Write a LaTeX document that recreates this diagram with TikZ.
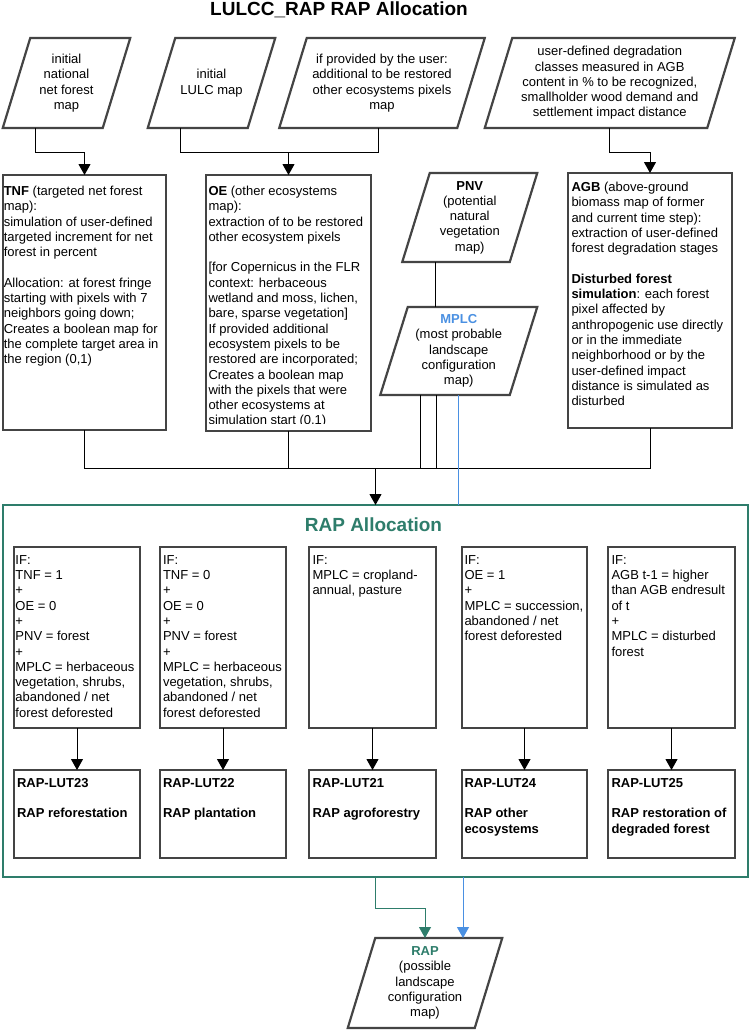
\documentclass[tikz,border=0pt]{standalone}
\usepackage{fontspec}
\setmainfont{Liberation Sans}
\usetikzlibrary{arrows.meta,calc}
\definecolor{bord}{HTML}{444444}
\definecolor{rgreen}{HTML}{2E7D6B}
\definecolor{mblue}{HTML}{4A90E2}
\newcommand\parashape[1]{\draw[pshape] ([xshift=13.75pt]#1.north west) -- ([xshift=13.75pt]#1.north east) -- ([xshift=-13.75pt]#1.south east) -- ([xshift=-13.75pt]#1.south west) -- cycle;}
\tikzset{
  every node/.style={font=\fontsize{13}{15.3}\selectfont, inner sep=0pt, outer sep=0pt},
  para/.style={align=center, inner sep=0pt, outer sep=0pt},
  pshape/.style={draw=bord, line width=2.2pt, line join=miter, fill=white},
  boxst/.style={draw=bord, line width=2.4pt, fill=white},
  txt/.style={anchor=north west, align=left},
  txtb/.style={anchor=north west, align=left, font=\fontsize{13}{15.3}\selectfont\bfseries},
  conn/.style={draw=black, line width=1pt},
  arr/.style={conn, -{Triangle[width=12pt,length=11pt]}},
  gline/.style={draw=rgreen, line width=1pt},
  garr/.style={gline, -{Triangle[width=12pt,length=11pt]}},
  bline/.style={draw=mblue, line width=1pt},
  barr/.style={bline, -{Triangle[width=12pt,length=11pt]}},
  bigtitle/.style={font=\fontsize{19}{22}\selectfont\bfseries}
}
\begin{document}
\begin{tikzpicture}[x=1pt,y=-1pt]
\useasboundingbox (0,0) rectangle (750,1030);
\fill[white] (0,0) rectangle (750,1030);

% title
\node[bigtitle, anchor=base] (title) at (339,15.5) {LULCC\_RAP RAP Allocation};

% helper coordinates
\coordinate (topy) at (0,152);
\coordinate (busy) at (0,468);

% top input parallelograms
\node[para, minimum width=100pt, minimum height=90pt] (p1) at (66.5,83) {};
\parashape{p1}
\node[para] (p1t) at (p1.center) {initial\\national\\net forest\\map};

\node[para, minimum width=100pt, minimum height=90pt] (p2) at (211.5,83) {};
\parashape{p2}
\node[para] (p2t) at (p2.center) {initial\\LULC map};

\node[para, minimum width=178pt, minimum height=90pt] (p3) at (382,83) {};
\parashape{p3}
\node[para] (p3t) at (p3.center) {if provided by the user:\\additional to be restored\\other ecosystems pixels\\map};

\node[para, minimum width=222.5pt, minimum height=90pt] (p4) at (609.75,83) {};
\parashape{p4}
\node[para] (p4t) at (p4.center) {user-defined degradation\\classes measured in AGB\\content in \% to be recognized,\\smallholder wood demand and\\settlement impact distance};

% PNV and MPLC
\node[para, minimum width=107.5pt, minimum height=89pt] (pnv) at (469.75,217.5) {};
\parashape{pnv}
\node[para] (pnvt) at (pnv.center) {\textbf{PNV}\\(potential\\natural\\vegetation\\map)};

\node[para, minimum width=129.5pt, minimum height=88pt] (mplc) at (458.75,351) {};
\parashape{mplc}
\node[para] (mplct) at (mplc.center) {\textcolor{mblue}{\textbf{MPLC}}\\(most probable\\landscape\\configuration\\map)};

% second row boxes
\node[boxst, minimum width=163pt, minimum height=255pt] (tnf) at (84.5,302.5) {};
\node[txt] (tnft) at (3.8,186) {\textbf{TNF} (targeted net forest\\
map):\\
simulation of user-defined\\
targeted increment for net\\
forest in percent\\[15.3pt]
Allocation: at forest fringe\\
starting with pixels with 7\\
neighbors going down;\\
Creates a boolean map for\\
the complete target area in\\
the region (0,1)};

\node[boxst, minimum width=165pt, minimum height=256pt] (oe) at (288.5,303) {};
\begin{scope}
\clip (206,176) rectangle (371,423.5);
\node[txt] (oet) at (208.5,186) {\textbf{OE} (other ecosystems\\
map):\\
extraction of to be restored\\
other ecosystem pixels\\[15.3pt]
{[}for Copernicus in the FLR\\
context: herbaceous\\
wetland and moss, lichen,\\
bare, sparse vegetation{]}\\
If provided additional\\
ecosystem pixels to be\\
restored are incorporated;\\
Creates a boolean map\\
with the pixels that were\\
other ecosystems at\\
simulation start (0,1)};
\end{scope}

\node[boxst, minimum width=164pt, minimum height=255pt] (agb) at (650,300.5) {};
\node[txt] (agbt) at (571.5,182) {\textbf{AGB} (above-ground\\
biomass map of former\\
and current time step):\\
extraction of user-defined\\
forest degradation stages\\[15.3pt]
\textbf{Disturbed forest}\\
\textbf{simulation}: each forest\\
pixel affected by\\
anthropogenic use directly\\
or in the immediate\\
neighborhood or by the\\
user-defined impact\\
distance is simulated as\\
disturbed};

% top connectors
\coordinate (p1b) at ([xshift=-31.5pt]p1.south);
\draw[arr] (p1b) -- (p1b |- topy) -| (tnf.north);
\coordinate (p2b) at ([xshift=-31.5pt]p2.south);
\coordinate (p3b) at ([xshift=-4pt]p3.south);
\draw[conn] (p2b) |- (oe.north |- topy);
\draw[conn] (p3b) |- (oe.north |- topy);
\draw[arr] (oe.north |- topy) -- (oe.north);
\draw[arr] (p4.south) -- (p4.south |- topy) -| (agb.north);

\coordinate (pnvb) at ([xshift=-34pt]pnv.south);
\draw[conn] (pnvb) -- (pnvb |- mplc.north);

% RAP allocation frame
\node[draw=rgreen, line width=2.2pt, minimum width=745pt, minimum height=372pt] (rapbox) at (375.5,691) {};
\node[bigtitle, text=rgreen] (raptitle) at (373.5,525) {RAP Allocation};

% bus
\coordinate (m1) at ([xshift=-38.75pt]mplc.south);
\coordinate (m2) at ([xshift=-22.75pt]mplc.south);
\draw[conn] (tnf.south) -- (tnf.south |- busy) -- (agb.south |- busy) -- (agb.south);
\draw[conn] (oe.south) -- (oe.south |- busy);
\draw[conn] (m1) -- (m1 |- busy);
\draw[conn] (m2) -- (m2 |- busy);
\draw[arr] (rapbox.north |- busy) -- (rapbox.north);
\draw[bline] (mplc.south) -- (mplc.south |- rapbox.north);

% condition boxes
\node[boxst, minimum width=126pt, minimum height=181pt] (c1) at (77,637.5) {};
\node[boxst, minimum width=126pt, minimum height=181pt] (c2) at (223,637.5) {};
\node[boxst, minimum width=127pt, minimum height=181pt] (c3) at (372.5,637.5) {};
\node[boxst, minimum width=125pt, minimum height=181pt] (c4) at (524.5,637.5) {};
\node[boxst, minimum width=127pt, minimum height=181pt] (c5) at (671.5,637.5) {};

\node[txt] (c1t) at (15.5,555.3) {IF:\\TNF = 1\\+\\OE = 0\\+\\PNV = forest\\+\\MPLC = herbaceous\\vegetation, shrubs,\\abandoned / net\\forest deforested};
\node[txt] (c2t) at (163,555.3) {IF:\\TNF = 0\\+\\OE = 0\\+\\PNV = forest\\+\\MPLC = herbaceous\\vegetation, shrubs,\\abandoned / net\\forest deforested};
\node[txt] (c3t) at (312.5,555.3) {IF:\\MPLC = cropland-\\annual, pasture};
\node[txt] (c4t) at (464.5,555.3) {IF:\\OE = 1\\+\\MPLC = succession,\\abandoned / net\\forest deforested};
\node[txt] (c5t) at (611.5,555.3) {IF:\\AGB t-1 = higher\\than AGB endresult\\of t\\+\\MPLC = disturbed\\forest};

% result boxes
\node[boxst, minimum width=126pt, minimum height=88pt] (r1) at (77,814) {};
\node[boxst, minimum width=126pt, minimum height=88pt] (r2) at (223,814) {};
\node[boxst, minimum width=127pt, minimum height=88pt] (r3) at (372.5,814) {};
\node[boxst, minimum width=125pt, minimum height=88pt] (r4) at (524.5,814) {};
\node[boxst, minimum width=127pt, minimum height=88pt] (r5) at (671.5,814) {};

\node[txtb] (r1t) at (17,778.3) {RAP-LUT23\\[15.3pt]RAP reforestation};
\node[txtb] (r2t) at (163,778.3) {RAP-LUT22\\[15.3pt]RAP plantation};
\node[txtb] (r3t) at (312.5,778.3) {RAP-LUT21\\[15.3pt]RAP agroforestry};
\node[txtb] (r4t) at (464.5,778.3) {RAP-LUT24\\[15.3pt]RAP other\\ecosystems};
\node[txtb] (r5t) at (611.5,778.3) {RAP-LUT25\\[15.3pt]RAP restoration of\\degraded forest};

\foreach \i in {1,...,5} {\draw[arr] (c\i.south) -- (r\i.north);}

% output RAP
\node[para, minimum width=127pt, minimum height=90pt] (rap) at (425,983) {};
\parashape{rap}
\node[para] (rapt) at (rap.center) {\textcolor{rgreen}{\textbf{RAP}}\\(possible\\landscape\\configuration\\map)};

\draw[garr] (rapbox.south) -- ++(0,31) -| (rap.north);
\coordinate (rapb) at ([xshift=38pt]rap.north);
\draw[barr] (rapb |- rapbox.south) -- (rapb);
\end{tikzpicture}
\end{document}
